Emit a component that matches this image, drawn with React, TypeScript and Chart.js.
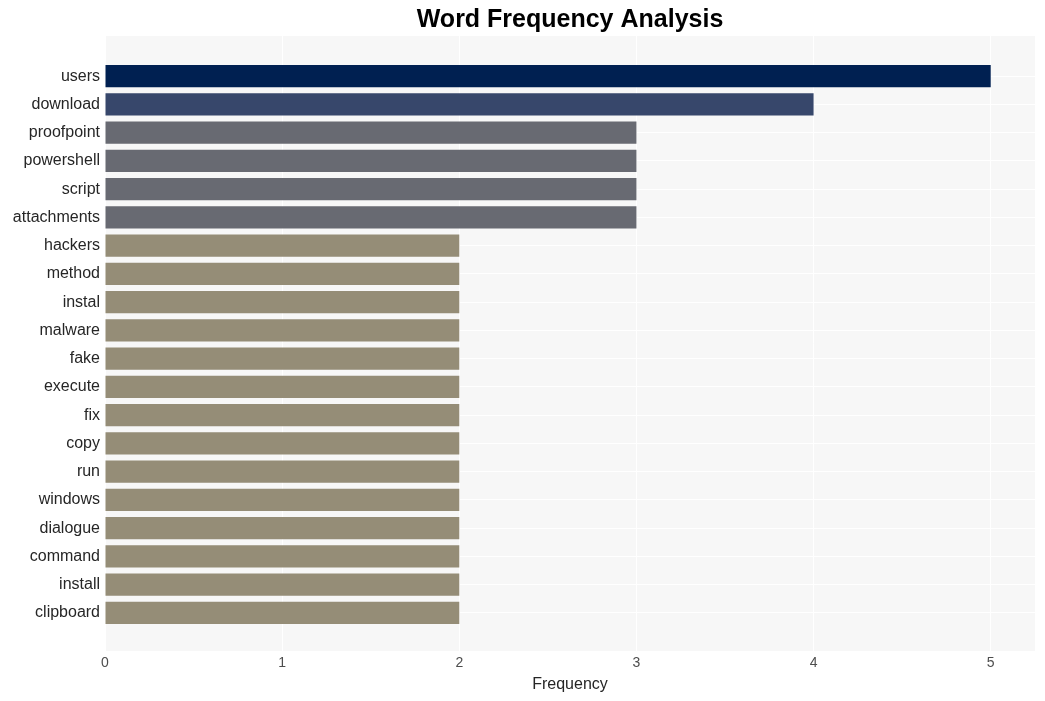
import React, { useEffect, useRef } from "react";
import { Chart, registerables } from "chart.js";

Chart.register(...registerables);

const categories = [
  "users", "download", "proofpoint", "powershell", "script", "attachments",
  "hackers", "method", "instal", "malware", "fake", "execute", "fix", "copy",
  "run", "windows", "dialogue", "command", "install", "clipboard",
];
const frequencies = [5, 4, 3, 3, 3, 3, 2, 2, 2, 2, 2, 2, 2, 2, 2, 2, 2, 2, 2, 2];
const xTicks = [0, 1, 2, 3, 4, 5];
const titleText = "Word Frequency Analysis";
const xTitle = "Frequency";

const colorFor = (v: number) =>
  v >= 5 ? "#002051" : v >= 4 ? "#37476b" : v >= 3 ? "#686a72" : "#958d77";

const FONT = "'Liberation Sans', Arial, Helvetica, sans-serif";

export default function App() {
  const ref = useRef<HTMLCanvasElement | null>(null);

  useEffect(() => {
    document.body.style.margin = "0";
    document.body.style.overflow = "hidden";
    const canvas = ref.current!;
    const bgPlugin = {
      id: "bgPlugin",
      beforeDraw(chart: any) {
        const { ctx, chartArea } = chart;
        ctx.save();
        ctx.fillStyle = "#ffffff";
        ctx.fillRect(0, 0, chart.width, chart.height);
        ctx.fillStyle = "#f7f7f7";
        ctx.fillRect(chartArea.left, chartArea.top, chartArea.right - chartArea.left, chartArea.bottom - chartArea.top);
        ctx.restore();
      },
      afterDraw(chart: any) {
        const { ctx, chartArea } = chart;
        ctx.save();
        ctx.fillStyle = "#000000";
        ctx.font = `bold 25px ${FONT}`;
        ctx.textAlign = "center";
        ctx.textBaseline = "middle";
        ctx.fillText(titleText, (chartArea.left + chartArea.right) / 2, 20.5);
        ctx.restore();
      },
    };

    const chart = new Chart(canvas, {
      type: "bar",
      data: {
        datasets: [
          {
            data: frequencies.map((v, i) => ({ x: v, y: i })),
            backgroundColor: frequencies.map(colorFor),
            borderWidth: 0,
            barPercentage: 0.78,
            categoryPercentage: 1,
          },
        ],
      },
      plugins: [bgPlugin],
      options: {
        indexAxis: "y",
        animation: false,
        responsive: false,
        maintainAspectRatio: false,
        layout: { padding: { top: 36, right: 10, bottom: 0, left: 0 } },
        plugins: {
          legend: { display: false },
          title: { display: false },
          tooltip: { enabled: false },
        },
        scales: {
          y: {
            type: "linear",
            reverse: true,
            offset: false,
            min: -1.42,
            max: 20.35,
            afterBuildTicks(scale: any) {
              scale.ticks = categories.map((_, i) => ({ value: i }));
            },
            afterFit(scale: any) {
              scale.width = 105;
            },
            ticks: {
              callback: (v: any) => categories[v as number] ?? "",
              font: { family: FONT, size: 16 },
              color: "#262626",
              padding: 5,
              autoSkip: false,
            },
            grid: { color: "#ffffff", lineWidth: 1, drawTicks: false, offset: false },
            border: { display: false },
          },
          x: {
            type: "linear",
            min: 0,
            max: 5.25,
            afterBuildTicks(scale: any) {
              scale.ticks = xTicks.map((v) => ({ value: v }));
            },
            afterFit(scale: any) {
              scale.height = 50;
            },
            ticks: {
              font: { family: FONT, size: 14 },
              color: "#4d4d4d",
              padding: 4,
            },
            grid: { color: "#ffffff", lineWidth: 1, drawTicks: false },
            border: { display: false },
            title: {
              display: true,
              text: xTitle,
              font: { family: FONT, size: 16 },
              color: "#262626",
              padding: { top: 2, bottom: 7 },
            },
          },
        },
      },
    } as any);
    return () => chart.destroy();
  }, []);

  return (
    <div style={{ width: 1045, height: 701 }}>
      <canvas ref={ref} width={1045} height={701} style={{ display: "block" }} />
    </div>
  );
}
